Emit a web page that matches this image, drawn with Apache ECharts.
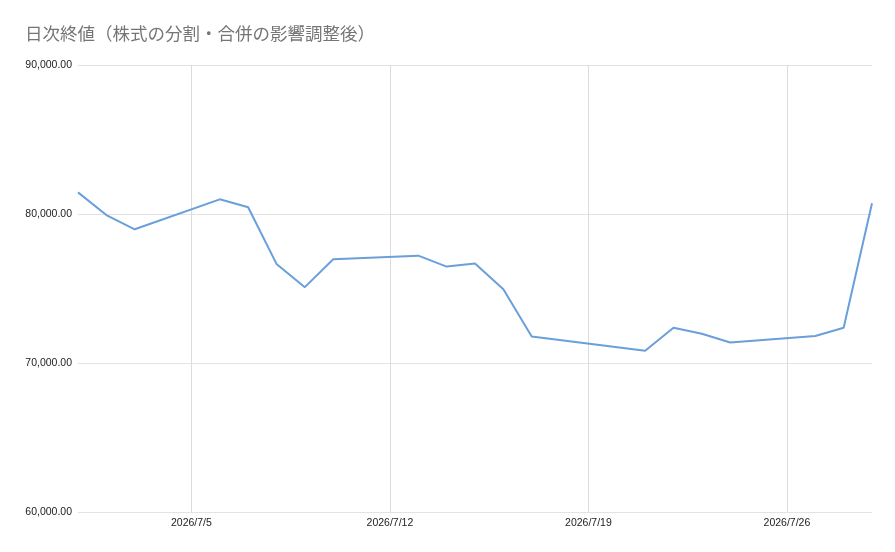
<!DOCTYPE html>
<html>
<head>
<meta charset="utf-8">
<script src="https://cdn.jsdelivr.net/npm/echarts@6/dist/echarts.min.js"></script>
<style>
html, body { margin: 0; padding: 0; background: #fff; }
#main { width: 895px; height: 552px; }
</style>
</head>
<body>
<div id="main"></div>
<script>
// 日付（2026年7月の日）
var days = [1, 2, 3, 6, 7, 8, 9, 10, 13, 14, 15, 16, 17, 21, 22, 23, 24, 27, 28, 29];
// 終値
var closes = [81450, 79930, 78975, 80985, 80450, 76650, 75090, 76965, 77205, 76470,
              76670, 74955, 71780, 70820, 72365, 71960, 71380, 71810, 72365, 80720];
// x軸の目盛り（日）
var tickDays = [5, 12, 19, 26];
var yTicks = [60000, 70000, 80000, 90000];

function ts(d) { return new Date(2026, 6, d).getTime(); }

var seriesData = [];
for (var i = 0; i < days.length; i++) {
    seriesData.push([ts(days[i]), closes[i]]);
}
var tickVals = tickDays.map(ts);

var myChart = echarts.init(document.getElementById('main'));
var option = {
    animation: false,
    title: {
        text: '日次終値（株式の分割・合併の影響調整後）',
        left: 20,
        top: 20,
        textStyle: {
            fontFamily: 'Noto Sans CJK JP',
            fontSize: 17.5,
            fontWeight: 'normal',
            color: '#757575'
        }
    },
    grid: {
        left: 78,
        right: 23,
        top: 65,
        bottom: 40
    },
    xAxis: {
        type: 'value',
        min: ts(1),
        max: ts(29),
        axisLine: { show: false },
        axisTick: { show: false, customValues: tickVals },
        axisLabel: {
            customValues: tickVals,
            margin: 6,
            fontFamily: 'Arial, Liberation Sans',
            fontSize: 10.5,
            color: '#222',
            formatter: function (v) {
                var d = new Date(v);
                return d.getFullYear() + '/' + (d.getMonth() + 1) + '/' + d.getDate();
            }
        },
        splitLine: {
            show: true,
            lineStyle: { color: '#dcdcdc', width: 1 }
        }
    },
    yAxis: {
        type: 'value',
        min: yTicks[0],
        max: yTicks[yTicks.length - 1],
        interval: 10000,
        axisLine: { show: false },
        axisTick: { show: false },
        axisLabel: {
            margin: 6,
            fontFamily: 'Arial, Liberation Sans',
            fontSize: 10.5,
            color: '#222',
            formatter: function (v) {
                return v.toLocaleString('en-US', { minimumFractionDigits: 2, maximumFractionDigits: 2 });
            }
        },
        splitLine: {
            lineStyle: { color: '#e3e3e3', width: 1 }
        }
    },
    series: [
        {
            name: '終値',
            type: 'line',
            data: seriesData,
            symbol: 'none',
            lineStyle: { color: '#6a9fd9', width: 2 }
        }
    ]
};
myChart.setOption(option);
</script>
</body>
</html>
